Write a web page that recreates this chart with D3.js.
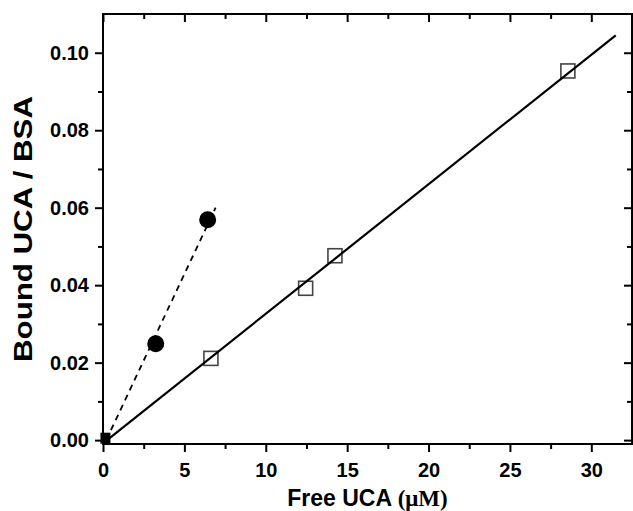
<!DOCTYPE html>
<html>
<head>
<meta charset="utf-8">
<script src="https://cdn.jsdelivr.net/npm/d3@7"></script>
<style>
  body { margin: 0; background: #fff; }
  text { font-family: "Liberation Sans", Arial, sans-serif; font-weight: bold; fill: #000; }
</style>
</head>
<body>
<script>
// Data
var filledFree  = [3.24, 6.43];
var filledBound = [0.0249, 0.0569];
var openFree    = [6.63, 12.45, 14.25, 28.56];
var openBound   = [0.0211, 0.0392, 0.0476, 0.0953];
var originFree  = [0.15];
var originBound = [0.0005];

// Fitted lines (end points)
var solidFitX  = [0.25, 31.5];
var solidFitY  = [0.0, 0.1045];
var dashedFitX = [0.2, 6.92];
var dashedFitY = [0.0, 0.060];

var xTicks = [0, 5, 10, 15, 20, 25, 30];
var xMinor = [2.5, 7.5, 12.5, 17.5, 22.5, 27.5];
var yTicks = [0, 0.02, 0.04, 0.06, 0.08, 0.10];
var yMinor = [0.01, 0.03, 0.05, 0.07, 0.09];

window.onload = drawChart();

function drawChart(){
  var width = 633,
      height = 511;
  var left = 103, right = 632, top = 14, bottom = 444;

  var svg = d3.select("body")
    .append("svg")
    .attr("width", width)
    .attr("height", height);

  var x = d3.scaleLinear().domain([0, 32.5]).range([left, right]);
  var y = d3.scaleLinear().domain([-0.001, 0.11]).range([bottom, top]);

  // helper to draw one axis with major + minor ticks
  function axis(gen, pos, ticks, minor, fmt, major, small){
    var g = svg.append("g").attr("transform", pos);
    g.call(gen.tickValues(ticks).tickSize(major).tickFormat(fmt).tickPadding(6));
    g.call(function(s){
      s.select(".domain").remove();
      s.selectAll("line").attr("stroke", "#000").attr("stroke-width", 2);
    });
    var g2 = svg.append("g").attr("transform", pos);
    g2.call(gen.tickValues(minor).tickSize(small).tickFormat(""));
    g2.select(".domain").remove();
    g2.selectAll("line").attr("stroke", "#000").attr("stroke-width", 2);
    return g;
  }

  // bottom (outward) and top (inward)
  var gx = axis(d3.axisBottom(x), "translate(0," + bottom + ")", xTicks, xMinor, d3.format("d"), 8, 5);
  gx.selectAll("text").style("font-size", "20px").attr("dy", "0.93em");
  axis(d3.axisBottom(x), "translate(0," + top + ")", xTicks, xMinor, "", 8, 5);

  // left (outward) and right (inward)
  var gy = axis(d3.axisLeft(y), "translate(" + left + ",0)", yTicks, yMinor, d3.format(".2f"), 8, 5);
  gy.selectAll("text").style("font-size", "20px");
  axis(d3.axisLeft(y), "translate(" + right + ",0)", yTicks, yMinor, "", 8, 5);

  // frame
  svg.append("rect")
    .attr("x", left).attr("y", top)
    .attr("width", right - left).attr("height", bottom - top)
    .attr("fill", "none").attr("stroke", "#000").attr("stroke-width", 2);

  var line = d3.line()
    .x(function(d){ return x(d[0]); })
    .y(function(d){ return y(d[1]); });

  // open squares
  svg.selectAll(".openSq")
    .data(d3.zip(openFree, openBound))
    .enter().append("rect")
    .attr("class", "openSq")
    .attr("x", function(d){ return x(d[0]) - 7; })
    .attr("y", function(d){ return y(d[1]) - 7; })
    .attr("width", 14).attr("height", 14)
    .attr("fill", "none").attr("stroke", "#444").attr("stroke-width", 1.6);

  // filled circles
  svg.selectAll(".dot")
    .data(d3.zip(filledFree, filledBound))
    .enter().append("circle")
    .attr("class", "dot")
    .attr("cx", function(d){ return x(d[0]); })
    .attr("cy", function(d){ return y(d[1]); })
    .attr("r", 8.5)
    .attr("fill", "#000");

  // point at the origin
  svg.selectAll(".origin")
    .data(d3.zip(originFree, originBound))
    .enter().append("rect")
    .attr("class", "origin")
    .attr("x", function(d){ return x(d[0]) - 5; })
    .attr("y", function(d){ return y(d[1]) - 5.5; })
    .attr("width", 10).attr("height", 11)
    .attr("fill", "#000");

  // fit lines
  svg.append("path")
    .datum(d3.zip(solidFitX, solidFitY))
    .attr("d", line)
    .attr("fill", "none").attr("stroke", "#000").attr("stroke-width", 2.2);

  svg.append("path")
    .datum(d3.zip(dashedFitX, dashedFitY))
    .attr("d", line)
    .attr("fill", "none").attr("stroke", "#000").attr("stroke-width", 1.8)
    .attr("stroke-dasharray", "6,5");

  // axis titles
  var xt = svg.append("text")
    .attr("x", (left + right) / 2)
    .attr("y", 506)
    .attr("text-anchor", "middle")
    .style("font-size", "23px");
  xt.append("tspan").text("Free UCA ");
  xt.append("tspan").style("font-family", "Liberation Serif, Times New Roman, serif").text("(\u03BCM)");

  svg.append("text")
    .attr("transform", "translate(32," + (top + bottom) / 2 + ") rotate(-90)")
    .attr("text-anchor", "middle")
    .style("font-size", "26px")
    .attr("textLength", 266)
    .attr("lengthAdjust", "spacingAndGlyphs")
    .text("Bound UCA / BSA");
}
</script>
</body>
</html>
